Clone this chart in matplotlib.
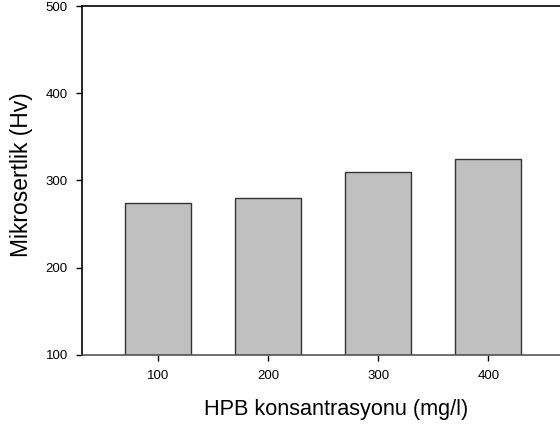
import matplotlib
matplotlib.use('Agg')
import matplotlib.pyplot as plt

plt.rcParams['font.family'] = ['Liberation Sans', 'DejaVu Sans']

konsantrasyon = [100, 200, 300, 400]
mikrosertlik = [274, 280, 310, 324]
xtick_labels = ['100', '200', '300', '400']
yticks = [100, 200, 300, 400, 500]

fig = plt.figure(figsize=(5.6, 4.29), dpi=100)
ax = fig.add_axes([0.1459, 0.1732, 1.0005, 0.8128])

ax.bar(konsantrasyon, [v - 100 for v in mikrosertlik], bottom=100, width=60,
       color='#c0c0c0', edgecolor='#333333', linewidth=1.0)

ax.set_xlim(30.4, 539.6)
ax.set_ylim(100, 500)
ax.set_xticks(konsantrasyon)
ax.set_xticklabels(xtick_labels)
ax.set_yticks(yticks)
ax.tick_params(axis='both', direction='out', length=4, width=1, labelsize=9.5)
ax.tick_params(axis='x', pad=7)
ax.tick_params(axis='y', pad=6)

for s in ax.spines.values():
    s.set_linewidth(1.2)
ax.spines['bottom'].set_color('#555555')

# the picture is cropped on the right, so labels sit left of the axes centre
ax.set_xlabel('HPB konsantrasyonu (mg/l)', fontsize=15.6, labelpad=12, x=0.454)
ax.set_ylabel('Mikrosertlik (Hv)', fontsize=16.5, labelpad=9, y=0.515)

fig.savefig('out.png', dpi=100)
